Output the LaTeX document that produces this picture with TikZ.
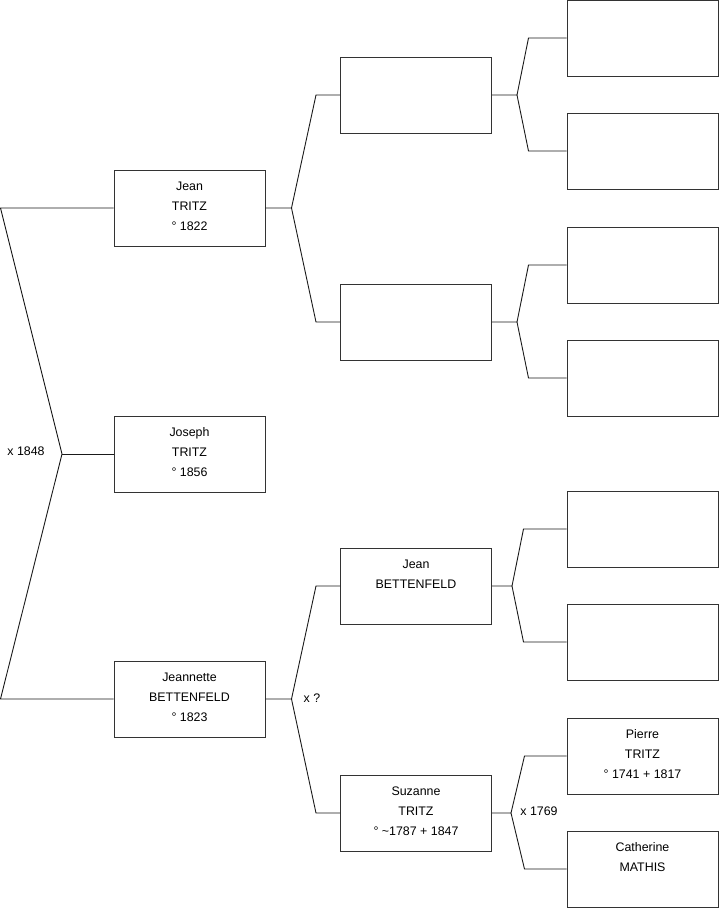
\documentclass[tikz,border=0pt]{standalone}
\usepackage{fontspec}
\setmainfont{Liberation Sans}
\usetikzlibrary{calc}
\definecolor{edge}{HTML}{333333}
\definecolor{wire}{HTML}{1A1A1A}
\newcommand{\who}[1]{\parbox[c][76pt][t]{151pt}{\centering\rule{0pt}{20pt}#1}}

\begin{document}
\begin{tikzpicture}[x=1pt,y=1pt,font=\fontsize{12.4pt}{20pt}\selectfont,
  person/.style={draw=edge,line width=1pt,inner sep=0pt,minimum width=151pt,minimum height=76pt},
  link/.style={draw=wire,line width=0.9pt},
  wed/.style={inner sep=0pt}]
  \useasboundingbox (0,0) rectangle (719,-908);
  % first generation
  \node[person] (jean) at (189.5,-208) {\who{Jean\\TRITZ\\° 1822}};
  \node[person] (joseph) at (189.5,-454) {\who{Joseph\\TRITZ\\° 1856}};
  \node[person] (jeannette) at (189.5,-699) {\who{Jeannette\\BETTENFELD\\° 1823}};
  % second generation
  \node[person] (j1) at (416,-95) {};
  \node[person] (j2) at (416,-322) {};
  \node[person] (bettenfeld) at (416,-586) {\who{Jean\\BETTENFELD}};
  \node[person] (suzanne) at (416,-813) {\who{Suzanne\\TRITZ\\° \textasciitilde1787 + 1847}};
  % third generation
  \foreach \n/\y in {j11/38,j12/151,j21/265,j22/378,b1/529,b2/642}
    \node[person] (\n) at (642.5,-\y) {};
  \node[person] (pierre) at (642.5,-756) {\who{Pierre\\TRITZ\\° 1741 + 1817}};
  \node[person] (catherine) at (642.5,-869) {\who{Catherine\\MATHIS}};
  % brackets
  \coordinate (root) at (62,-454);
  \draw[link] (jean.west) -- (0.5,-208) -- (root) -- (0.5,-699) -- (jeannette.west);
  \draw[link] (root) -- (joseph.west);
  \foreach \c/\f/\m/\a/\b in {jean/j1/j2/26/24,jeannette/bettenfeld/suzanne/26/24,
      j1/j11/j12/25/38,j2/j21/j22/25/38,bettenfeld/b1/b2/20/43,suzanne/pierre/catherine/19/42}
    \draw[link] (\f.west) -- ++(-\b,0) -- ($(\c.east)+(\a,0)$) -- (\c.east)
      ($(\c.east)+(\a,0)$) -- ($(\m.west)+(-\b,0)$) -- (\m.west);
  % marriages
  \node[wed] (w1848) at (26,-451) {x 1848};
  \node[wed] (wq) at (312,-698) {x ?};
  \node[wed] (w1769) at (539,-811) {x 1769};
\end{tikzpicture}
\end{document}
